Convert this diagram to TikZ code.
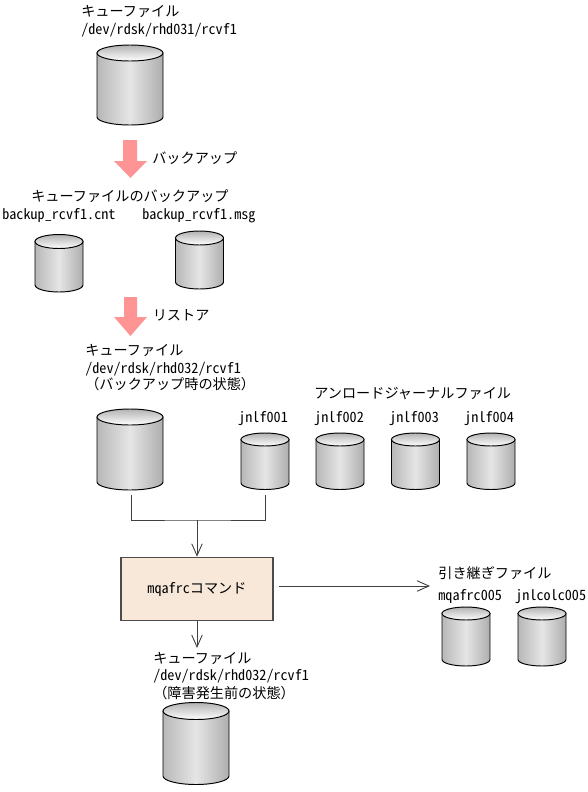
\documentclass[tikz,border=0pt]{standalone}
\usepackage{fontspec}
\usetikzlibrary{arrows.meta}
\newfontfamily\jpfont{Noto Sans CJK JP}
\newfontfamily\latfont{Noto Sans CJK JP}[RawFeature=+hwid]
\definecolor{cmdfill}{HTML}{F8E8D9}
\definecolor{pinkarrow}{HTML}{FF9494}
\tikzset{
  jplabel/.style={anchor=base west,inner sep=0pt,font=\jpfont\fontsize{8.05}{9}\selectfont},
  latlabel/.style={anchor=base west,inner sep=0pt,font=\latfont\fontsize{8.05}{9}\selectfont},
  drumside/.style={draw=black,line width=0.55pt,left color=black!28,right color=black!32,middle color=black!10},
  drumtop/.style={draw=black,line width=0.55pt,top color=black!30,bottom color=white},
  connector/.style={black!75,line width=0.5pt},
  flow/.style={connector,-{Straight Barb[length=6.8pt,width=6pt]}},
  blockarrow/.style={fill=pinkarrow,draw=none},
  cmdbox/.style={draw=black!70,line width=0.6pt,fill=cmdfill,minimum width=3.04cm,minimum height=1.27cm,inner sep=0pt}
}
\begin{document}
\begin{tikzpicture}
\useasboundingbox (0.000,0.000) rectangle (11.760,-15.840);
\node[jplabel] (queuefirst) at (1.620,-0.320) {キューファイル};
\node[latlabel] (pathfirst) at (1.620,-0.680) {/dev/rdsk/rhd031/rcvf1};
\draw[drumside] (1.940,-1.060) -- (1.940,-2.340) arc[start angle=180,end angle=360,x radius=0.660,y radius=0.160] -- (3.260,-1.060) -- cycle;
\draw[drumtop] (2.600,-1.060) ellipse [x radius=0.660,y radius=0.160];
\draw[blockarrow] (2.460,-2.800) -- (2.740,-2.800) -- (2.740,-3.220) -- (2.940,-3.220) -- (2.610,-3.560) -- (2.280,-3.220) -- (2.460,-3.220) -- cycle;
\node[jplabel] (backuplabel) at (3.040,-3.260) {バックアップ};
\node[jplabel] (backuptitle) at (0.620,-4.020) {キューファイルのバックアップ};
\node[latlabel] (cntlabel) at (0.040,-4.380) {backup\_rcvf1.cnt};
\node[latlabel] (msglabel) at (2.840,-4.380) {backup\_rcvf1.msg};
\draw[drumside] (0.700,-4.830) -- (0.700,-5.700) arc[start angle=180,end angle=360,x radius=0.480,y radius=0.140] -- (1.660,-4.830) -- cycle;
\draw[drumtop] (1.180,-4.830) ellipse [x radius=0.480,y radius=0.140];
\draw[drumside] (3.510,-4.760) -- (3.510,-5.640) arc[start angle=180,end angle=360,x radius=0.480,y radius=0.140] -- (4.470,-4.760) -- cycle;
\draw[drumtop] (3.990,-4.760) ellipse [x radius=0.480,y radius=0.140];
\draw[blockarrow] (2.480,-5.940) -- (2.740,-5.940) -- (2.740,-6.340) -- (2.940,-6.340) -- (2.610,-6.720) -- (2.280,-6.340) -- (2.480,-6.340) -- cycle;
\node[jplabel] (restorelabel) at (3.050,-6.400) {リストア};
\node[jplabel] (queuesecond) at (1.700,-7.100) {キューファイル};
\node[latlabel] (pathsecond) at (1.700,-7.460) {/dev/rdsk/rhd032/rcvf1};
\node[jplabel] (statebackup) at (1.700,-7.780) {（バックアップ時の状態）};
\draw[drumside] (1.940,-8.340) -- (1.940,-9.640) arc[start angle=180,end angle=360,x radius=0.660,y radius=0.160] -- (3.260,-8.340) -- cycle;
\draw[drumtop] (2.600,-8.340) ellipse [x radius=0.660,y radius=0.160];
\node[jplabel] (unloadtitle) at (6.280,-7.960) {アンロードジャーナルファイル};
\node[latlabel] (jnlfone) at (4.760,-8.440) {jnlf001};
\node[latlabel] (jnlftwo) at (6.280,-8.440) {jnlf002};
\node[latlabel] (jnlfthree) at (7.780,-8.440) {jnlf003};
\node[latlabel] (jnlffour) at (9.280,-8.440) {jnlf004};
\draw[drumside] (4.820,-8.790) -- (4.820,-9.660) arc[start angle=180,end angle=360,x radius=0.480,y radius=0.130] -- (5.780,-8.790) -- cycle;
\draw[drumtop] (5.300,-8.790) ellipse [x radius=0.480,y radius=0.130];
\draw[drumside] (6.320,-8.790) -- (6.320,-9.660) arc[start angle=180,end angle=360,x radius=0.480,y radius=0.130] -- (7.280,-8.790) -- cycle;
\draw[drumtop] (6.800,-8.790) ellipse [x radius=0.480,y radius=0.130];
\draw[drumside] (7.830,-8.790) -- (7.830,-9.660) arc[start angle=180,end angle=360,x radius=0.480,y radius=0.130] -- (8.790,-8.790) -- cycle;
\draw[drumtop] (8.310,-8.790) ellipse [x radius=0.480,y radius=0.130];
\draw[drumside] (9.340,-8.790) -- (9.340,-9.660) arc[start angle=180,end angle=360,x radius=0.480,y radius=0.130] -- (10.300,-8.790) -- cycle;
\draw[drumtop] (9.820,-8.790) ellipse [x radius=0.480,y radius=0.130];
\node[cmdbox] (cmd) at (3.940,-11.780) {{\latfont\fontsize{8.05}{9}\selectfont mqafrc}{\jpfont\fontsize{8.05}{9}\selectfont コマンド}};
\coordinate (drumout) at (2.620,-9.900);
\coordinate (jnlfout) at (5.300,-9.900);
\coordinate (joint) at (3.940,-10.400);
\coordinate (cmddown) at (3.940,-12.960);
\coordinate (cmdout) at (5.580,-11.720);
\coordinate (handover) at (8.600,-11.720);
\draw[connector] (drumout) |- (joint) -| (jnlfout);
\draw[flow] (joint) -- (cmd);
\draw[flow] (cmd) -- (cmddown);
\draw[flow] (cmdout) -- (handover);
\node[jplabel] (handtitle) at (8.760,-11.560) {引き継ぎファイル};
\node[latlabel] (mqalabel) at (8.760,-12.000) {mqafrc005};
\node[latlabel] (jnllabel) at (10.300,-12.000) {jnlcolc005};
\draw[drumside] (8.840,-12.270) -- (8.840,-13.190) arc[start angle=180,end angle=360,x radius=0.480,y radius=0.130] -- (9.800,-12.270) -- cycle;
\draw[drumtop] (9.320,-12.270) ellipse [x radius=0.480,y radius=0.130];
\draw[drumside] (10.360,-12.270) -- (10.360,-13.190) arc[start angle=180,end angle=360,x radius=0.480,y radius=0.130] -- (11.320,-12.270) -- cycle;
\draw[drumtop] (10.840,-12.270) ellipse [x radius=0.480,y radius=0.130];
\node[jplabel] (queuelast) at (3.060,-13.260) {キューファイル};
\node[latlabel] (pathlast) at (3.060,-13.600) {/dev/rdsk/rhd032/rcvf1};
\node[jplabel] (statelast) at (3.060,-13.960) {（障害発生前の状態）};
\draw[drumside] (3.260,-14.220) -- (3.260,-15.520) arc[start angle=180,end angle=360,x radius=0.660,y radius=0.170] -- (4.580,-14.220) -- cycle;
\draw[drumtop] (3.920,-14.220) ellipse [x radius=0.660,y radius=0.170];
\end{tikzpicture}
\end{document}
